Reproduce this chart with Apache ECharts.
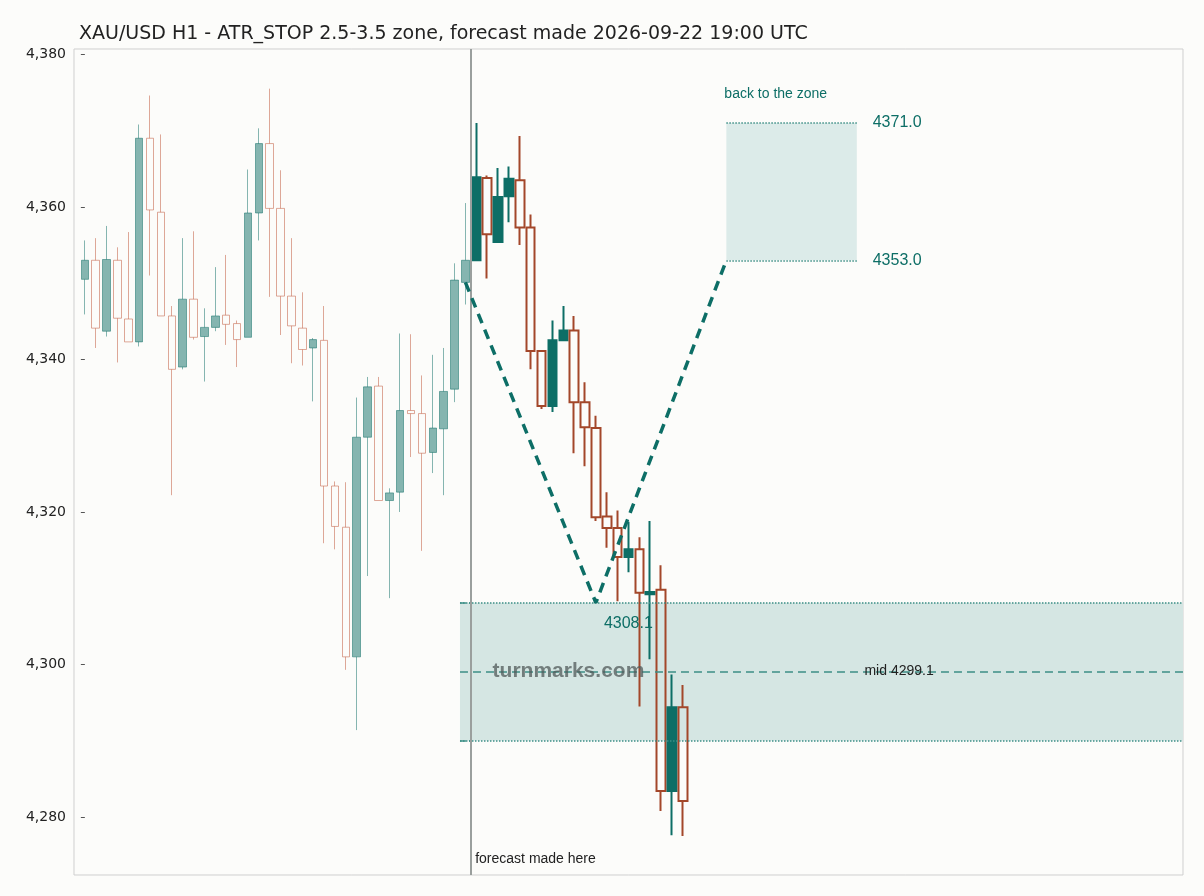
<!DOCTYPE html>
<html><head><meta charset="utf-8">
<script src="https://cdn.jsdelivr.net/npm/echarts@6/dist/echarts.min.js"></script>
<style>html,body{margin:0;background:#fcfcfa}#c{width:1204px;height:896px}</style>
</head><body><div id="c"></div>
<script>
// [open, close, low, high]
const histCandles = [
[4350.5,4353.0,4345.9,4355.6],[4353.0,4344.1,4341.5,4355.9],[4343.7,4353.1,4343.0,4357.5],[4353.0,4345.4,4339.6,4354.7],
[4345.3,4342.3,4342.3,4356.7],[4342.3,4369.0,4341.7,4370.8],[4369.0,4359.6,4351.0,4374.6],[4359.3,4345.7,4345.7,4369.5],
[4345.7,4338.7,4322.2,4347.0],[4339.0,4347.9,4338.7,4355.9],[4347.9,4342.9,4342.6,4356.8],[4343.0,4344.2,4337.1,4346.7],
[4344.2,4345.7,4343.7,4352.1],[4345.8,4344.6,4341.9,4353.7],[4344.7,4342.6,4339.0,4345.1],[4342.9,4359.2,4342.9,4364.9],
[4359.2,4368.3,4355.6,4370.3],[4368.3,4359.8,4348.2,4375.5],[4359.8,4348.3,4343.2,4364.8],[4348.3,4344.4,4339.5,4355.9],
[4344.1,4341.3,4339.2,4348.8],[4341.5,4342.6,4334.5,4342.8],[4342.5,4323.4,4315.9,4347.0],[4323.4,4318.1,4315.1,4324.0],
[4318.0,4301.0,4299.3,4323.9],[4301.0,4329.8,4291.4,4335.0],[4329.8,4336.4,4311.6,4337.7],[4336.5,4321.5,4321.5,4337.7],
[4321.5,4322.5,4308.7,4323.1],[4322.6,4333.3,4320.0,4343.4],[4333.3,4332.9,4327.2,4343.3],[4332.9,4327.7,4314.9,4337.9],
[4327.8,4331.0,4325.1,4340.6],[4330.9,4335.8,4322.2,4341.5],[4336.1,4350.4,4334.4,4352.6],[4350.1,4353.0,4347.2,4360.5]
];
const fcCandles = [
[4353.0,4363.9,4353.0,4371.0],[4363.8,4356.4,4350.6,4364.1],[4355.4,4361.3,4355.4,4365.1],[4361.4,4363.7,4358.0,4365.3],
[4363.5,4357.3,4355.0,4369.3],[4357.3,4341.1,4338.7,4359.0],[4341.1,4333.9,4333.5,4341.1],[4333.9,4342.5,4333.1,4345.1],
[4342.5,4343.8,4342.4,4347.0],[4343.8,4334.4,4327.7,4345.7],[4334.4,4331.1,4326.0,4337.0],[4331.0,4319.3,4318.8,4332.6],
[4319.4,4317.9,4315.3,4322.6],[4317.9,4314.1,4308.3,4320.2],[4314.1,4315.1,4312.1,4318.7],[4315.1,4309.4,4294.5,4316.7],
[4309.2,4309.5,4300.7,4318.8],[4309.8,4283.4,4280.8,4313.0],[4283.4,4294.4,4277.6,4298.7],[4294.4,4282.1,4277.5,4297.3]
];
const pathPoints = [[35,4350.1],[47,4308.1],[59,4353.0]];
const yTicks = [4280,4300,4320,4340,4360,4380];
const upperZone = [4353.0,4371.0], lowerZone = [4290.0,4308.1], mid = 4299.1;
const teal = '#0d6e66', rust = '#a3472a';

const chart = echarts.init(document.getElementById('c'));
const dotted = {type:'dotted', color:'#3d8f86', width:1.5};
chart.setOption({
  backgroundColor:'#fcfcfa',
  animation:false,
  title:{text:'XAU/USD H1 - ATR_STOP 2.5-3.5 zone, forecast made 2026-09-22 19:00 UTC',left:74,top:20,
    textStyle:{fontSize:19,fontWeight:'normal',color:'#222',fontFamily:'DejaVu Sans'}},
  grid:{left:74,right:21,top:49,bottom:21,show:true,borderColor:'#cfcfcf',borderWidth:1},
  xAxis:{type:'value',min:-1,max:101,show:false},
  yAxis:{type:'value',min:4272.4,max:4380.7,splitLine:{show:false},
    axisLine:{show:false},
    axisTick:{show:true,customValues:yTicks,length:4,lineStyle:{color:'#555'}},
    axisLabel:{customValues:yTicks,color:'#222',fontSize:14,fontFamily:'DejaVu Sans'}},
  series:[
    {type:'line',data:[],silent:true,
      markArea:{silent:true,data:[
        [{coord:[34.5,lowerZone[0]],itemStyle:{color:'#d5e6e3'}},{coord:[101,lowerZone[1]]}],
        [{coord:[59,upperZone[0]],itemStyle:{color:'#dcebe9'}},{coord:[71,upperZone[1]]}]
      ]},
      markLine:{silent:true,symbol:'none',label:{show:false},data:[
        [{coord:[34.5,lowerZone[1]],lineStyle:dotted},{coord:[101,lowerZone[1]]}],
        [{coord:[34.5,lowerZone[0]],lineStyle:dotted},{coord:[101,lowerZone[0]]}],
        [{coord:[34.5,mid],lineStyle:{type:[8,5],color:'#3d8f86',width:1.5}},{coord:[101,mid]}],
        [{coord:[59,upperZone[1]],lineStyle:dotted},{coord:[71,upperZone[1]]}],
        [{coord:[59,upperZone[0]],lineStyle:dotted},{coord:[71,upperZone[0]]}],
        [{coord:[34.5,lowerZone[1]],lineStyle:{color:'#3d8f86',width:1.5}},{coord:[35.5,lowerZone[1]]}],
        [{coord:[34.5,lowerZone[0]],lineStyle:{color:'#3d8f86',width:1.5}},{coord:[35.5,lowerZone[0]]}],
        [{coord:[35.5,4272.4],lineStyle:{color:'#9a9f9d',width:2,type:'solid'}},{coord:[35.5,4380.7]}]
      ]},
      markPoint:{silent:true,symbolSize:0,data:[
        {coord:[59,4374.5],label:{show:true,position:'right',distance:0,formatter:'back to the zone',color:teal,fontSize:14,offset:[-2,-2]}},
        {coord:[72,upperZone[1]],label:{show:true,position:'right',formatter:'4371.0',color:teal,fontSize:16}},
        {coord:[72,upperZone[0]],label:{show:true,position:'right',formatter:'4353.0',color:teal,fontSize:16}},
        {coord:[47,4305.3],label:{show:true,position:'right',distance:0,formatter:'4308.1',color:teal,fontSize:16,offset:[8,0]}},
        {coord:[71.7,mid],label:{show:true,position:'right',distance:0,formatter:'mid 4299.1',color:'#222',fontSize:14}},
        {coord:[37.5,mid],label:{show:true,position:'right',distance:0,formatter:'turnmarks.com',color:'rgba(80,90,90,0.75)',fontSize:21,fontWeight:'bold'}},
        {coord:[35.9,4274.5],label:{show:true,position:'right',distance:0,formatter:'forecast made here',color:'#222',fontSize:14}}
      ]}
    },
    {type:'candlestick',barWidth:8,data:histCandles.map((d,i)=>[i,...d]),
      encode:{x:0,y:[1,2,3,4]},
      itemStyle:{color:'rgba(13,110,102,0.5)',color0:'rgba(0,0,0,0)',borderColor:'rgba(13,110,102,0.5)',borderColor0:'rgba(200,110,85,0.6)',borderWidth:1}},
    {type:'candlestick',barWidth:9,data:fcCandles.map((d,i)=>[36+i,...d]),
      encode:{x:0,y:[1,2,3,4]},
      itemStyle:{color:teal,color0:'rgba(0,0,0,0)',borderColor:teal,borderColor0:rust,borderWidth:2}},
    {type:'line',data:pathPoints,symbol:'none',lineStyle:{color:teal,width:3.5,type:[10,7]},z:5}
  ]
});
</script></body></html>
